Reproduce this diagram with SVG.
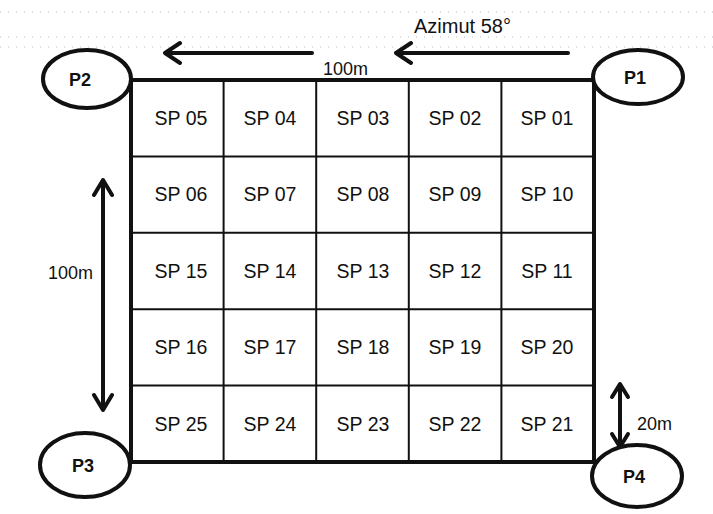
<svg xmlns="http://www.w3.org/2000/svg" width="713" height="514" viewBox="0 0 713 514">
  <style>
    .grid-outer { fill: none; stroke: #111; stroke-width: 4; }
    .grid-inner { fill: none; stroke: #111; stroke-width: 2; }
    .cell { font-family: "Liberation Sans", Arial, sans-serif; font-size: 19.5px; fill: #111; text-anchor: middle; }
    .dim { font-family: "Liberation Sans", Arial, sans-serif; font-size: 18px; fill: #111; }
    .pt ellipse { fill: #fff; stroke: #111; stroke-width: 4; }
    .pt text { font-family: "Liberation Sans", Arial, sans-serif; font-size: 18px; font-weight: bold; fill: #111; text-anchor: middle; }
    .arrow { fill: none; stroke: #111; stroke-width: 4; stroke-linecap: round; stroke-linejoin: round; }
    .scan { stroke: #bbb; stroke-width: 1; stroke-dasharray: 1 7; }
  </style>

  <rect width="713" height="514" fill="#fff"/>

  <!-- faint guide lines -->
  <g id="guides">
    <line class="scan" x1="0" y1="12" x2="713" y2="12"/>
    <line class="scan" x1="0" y1="37" x2="713" y2="37"/>
    <line class="scan" x1="0" y1="47" x2="713" y2="47"/>
  </g>

  <!-- plot grid -->
  <g id="grid">
    <g class="grid-inner">
      <line x1="223.6" y1="80" x2="223.6" y2="462"/>
      <line x1="316.2" y1="80" x2="316.2" y2="462"/>
      <line x1="408.8" y1="80" x2="408.8" y2="462"/>
      <line x1="501.4" y1="80" x2="501.4" y2="462"/>
      <line x1="131" y1="156.4" x2="594" y2="156.4"/>
      <line x1="131" y1="232.8" x2="594" y2="232.8"/>
      <line x1="131" y1="309.2" x2="594" y2="309.2"/>
      <line x1="131" y1="385.6" x2="594" y2="385.6"/>
    </g>
    <rect class="grid-outer" x="131" y="80" width="463" height="382"/>
  </g>

  <!-- subplot labels -->
  <g id="cells" class="cell">
    <text x="181" y="125">SP 05</text>
    <text x="270" y="125">SP 04</text>
    <text x="363" y="125">SP 03</text>
    <text x="455" y="125">SP 02</text>
    <text x="547" y="125">SP 01</text>

    <text x="181" y="201">SP 06</text>
    <text x="270" y="201">SP 07</text>
    <text x="363" y="201">SP 08</text>
    <text x="455" y="201">SP 09</text>
    <text x="547" y="201">SP 10</text>

    <text x="181" y="278">SP 15</text>
    <text x="270" y="278">SP 14</text>
    <text x="363" y="278">SP 13</text>
    <text x="455" y="278">SP 12</text>
    <text x="547" y="278">SP 11</text>

    <text x="181" y="354">SP 16</text>
    <text x="270" y="354">SP 17</text>
    <text x="363" y="354">SP 18</text>
    <text x="455" y="354">SP 19</text>
    <text x="547" y="354">SP 20</text>

    <text x="181" y="431">SP 25</text>
    <text x="270" y="431">SP 24</text>
    <text x="363" y="431">SP 23</text>
    <text x="455" y="431">SP 22</text>
    <text x="547" y="431">SP 21</text>
  </g>

  <!-- arrows and dimensions -->
  <g id="connectors">
    <!-- azimuth direction -->
    <path class="arrow" d="M312 53 H165 M180 43 L165 53 L180 63"/>
    <path class="arrow" d="M568 53 H396 M411 43 L396 53 L411 63"/>
    <!-- side length -->
    <path class="arrow" d="M103 181 V409 M94 195 L103 180 L112 195 M94 395 L103 410 L112 395"/>
    <!-- subplot height -->
    <path class="arrow" d="M620 385 V446 M612 397 L620 384 L628 397 M612 434 L620 447 L628 434"/>
  </g>

  <g id="labels" class="dim">
    <text x="414" y="33" font-size="20">Azimut 58°</text>
    <text x="323" y="75">100m</text>
    <text x="48" y="279">100m</text>
    <text x="637" y="430">20m</text>
  </g>

  <!-- corner points -->
  <g id="P2" class="pt">
    <ellipse cx="87" cy="79" rx="44" ry="29"/>
    <text x="80" y="86">P2</text>
  </g>
  <g id="P1" class="pt">
    <ellipse cx="638" cy="77" rx="45" ry="27"/>
    <text x="635" y="84">P1</text>
  </g>
  <g id="P3" class="pt">
    <ellipse cx="85" cy="465" rx="45" ry="32"/>
    <text x="83" y="472">P3</text>
  </g>
  <g id="P4" class="pt">
    <ellipse cx="637" cy="476" rx="45" ry="31"/>
    <text x="634" y="483">P4</text>
  </g>
</svg>
